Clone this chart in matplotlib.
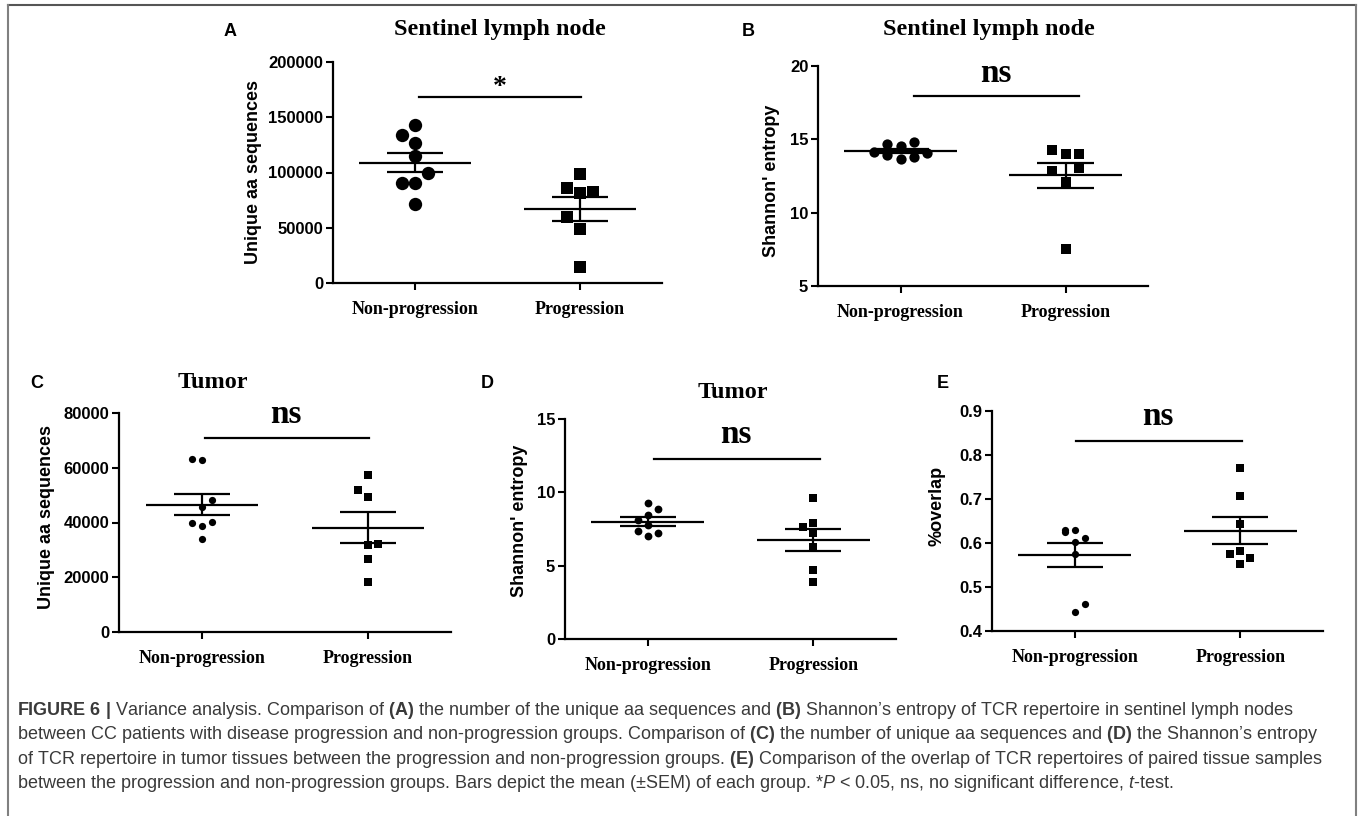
import numpy as np
import matplotlib.pyplot as plt
from matplotlib.lines import Line2D

# ---------------------------------------------------------------------------
# Data
# ---------------------------------------------------------------------------
groups = ['Non-progression', 'Progression']

# A: unique aa sequences, sentinel lymph node
a_nonprog = [143100, 134000, 127000, 114700, 99800, 90800, 90800, 71400]
a_prog = [99000, 85600, 81100, 82600, 59300, 49000, 14500]
# B: Shannon entropy, sentinel lymph node
b_nonprog = [14.16, 14.68, 13.93, 14.55, 13.64, 14.84, 13.82, 14.09]
b_prog = [14.30, 13.98, 13.98, 12.86, 13.02, 12.07, 7.55]
# C: unique aa sequences, tumor
c_nonprog = [63100, 62800, 48300, 45600, 39700, 38800, 40100, 33900]
c_prog = [57300, 51800, 49200, 31600, 32300, 26600, 18200]
# D: Shannon entropy, tumor
d_nonprog = [9.28, 8.87, 8.46, 8.12, 7.74, 7.37, 7.26, 6.99]
d_prog = [9.64, 7.94, 7.65, 7.22, 6.26, 4.72, 3.86]
# E: %overlap
e_nonprog = [0.630, 0.625, 0.629, 0.612, 0.603, 0.576, 0.4615, 0.444]
e_prog = [0.7695, 0.7065, 0.6436, 0.5745, 0.5813, 0.5669, 0.5525]

sig_labels = ['*', 'ns', 'ns', 'ns', 'ns']

# scatter columns (which side of the centre each point sits)
a_cols = ([0, -1, 0, 0, 1, -1, 0, 0], [0, -1, 0, 1, -1, 0, 0])
b_cols = ([-2, -1, -1, 0, 0, 1, 1, 2], [-1, 0, 1, -1, 1, 0, 0])
c_cols = ([-1, 0, 1, 0, -1, 0, 1, 0], [0, -1, 0, 0, 1, 0, 0])
d_cols = ([0, 1, 0, -1, 0, -1, 1, 0], [0, 0, -1, 0, 0, 0, 0])
e_cols = ([-1, -1, 0, 1, 0, 0, 1, 0], [0, 0, 0, -1, 0, 1, 0])

caption = [
    r"$\bf{FIGURE\ 6\ |}$ Variance analysis. Comparison of $\bf{(A)}$ the number of the unique aa sequences and $\bf{(B)}$ Shannon’s entropy of TCR repertoire in sentinel lymph nodes",
    r"between CC patients with disease progression and non-progression groups. Comparison of $\bf{(C)}$ the number of unique aa sequences and $\bf{(D)}$ the Shannon’s entropy",
    r"of TCR repertoire in tumor tissues between the progression and non-progression groups. $\bf{(E)}$ Comparison of the overlap of TCR repertoires of paired tissue samples",
    r"between the progression and non-progression groups. Bars depict the mean (±SEM) of each group. *$\it{P}$ < 0.05, ns, no significant difference, $\it{t}$-test.",
]

# ---------------------------------------------------------------------------
# Layout
# ---------------------------------------------------------------------------
W, H = 1360, 816
SANS = 'Liberation Sans'
SERIF = 'Liberation Serif'

plt.rcParams['mathtext.fontset'] = 'custom'
plt.rcParams['mathtext.rm'] = SANS
plt.rcParams['mathtext.bf'] = SANS + ':bold'
plt.rcParams['mathtext.it'] = SANS + ':italic'


def px_rect(l, t, r, b):
    return [l / W, 1 - b / H, (r - l) / W, (b - t) / H]


panels = [
    dict(letter='A', data=(a_nonprog, a_prog), cols=a_cols, rect=(333, 62, 662, 283),
         ylim=(0, 200000), yticks=[0, 50000, 100000, 150000, 200000],
         ylabel='Unique aa sequences', ylab_xy=(253, 172), ms=(9.6, 8.2), step=0.08,
         bar=(0.02, 1.01, 168300), sig_xy=(0.515, 171000), sig_size=20,
         title='Sentinel lymph node', title_xy=(500, 30), letter_xy=(230, 32)),
    dict(letter='B', data=(b_nonprog, b_prog), cols=b_cols, rect=(818, 66, 1148, 286),
         ylim=(5, 20), yticks=[5, 10, 15, 20],
         ylabel="Shannon' entropy", ylab_xy=(772, 181), ms=(7.4, 6.8), step=0.08,
         bar=(0.08, 1.08, 17.95), sig_xy=(0.576, 18.9), sig_size=24,
         title='Sentinel lymph node', title_xy=(989, 30), letter_xy=(748, 32)),
    dict(letter='C', data=(c_nonprog, c_prog), cols=c_cols, rect=(119, 413, 451, 632),
         ylim=(0, 80000), yticks=[0, 20000, 40000, 60000, 80000],
         ylabel='Unique aa sequences', ylab_xy=(47, 517), ms=(5.2, 5.2), step=0.06,
         bar=(0.02, 1.006, 70900), sig_xy=(0.506, 76300), sig_size=24,
         title='Tumor', title_xy=(213, 383), letter_xy=(37, 383)),
    dict(letter='D', data=(d_nonprog, d_prog), cols=d_cols, rect=(565, 419, 896, 639),
         ylim=(0, 15), yticks=[0, 5, 10, 15],
         ylabel="Shannon' entropy", ylab_xy=(520, 521), ms=(5.6, 5.2), step=0.06,
         bar=(0.04, 1.04, 12.27), sig_xy=(0.53, 13.36), sig_size=24,
         title='Tumor', title_xy=(733, 392), letter_xy=(487, 383)),
    dict(letter='E', data=(e_nonprog, e_prog), cols=e_cols, rect=(992, 411, 1323, 631),
         ylim=(0.4, 0.9), yticks=[0.4, 0.5, 0.6, 0.7, 0.8, 0.9],
         ylabel='%overlap', ylab_xy=(937, 506), ms=(5.2, 5.2), step=0.06,
         bar=(0.01, 1.01, 0.832), sig_xy=(0.503, 0.868), sig_size=24,
         title=None, title_xy=None, letter_xy=(943, 383)),
]

fig = plt.figure(figsize=(W / 100, H / 100), dpi=100)

for p, sig in zip(panels, sig_labels):
    ax = fig.add_axes(px_rect(*p['rect']))
    for i, (vals, cols) in enumerate(zip(p['data'], p['cols'])):
        vals = np.asarray(vals, dtype=float)
        x = i + np.asarray(cols) * p['step']
        ax.plot(x, vals, ls='', marker='o' if i == 0 else 's', ms=p['ms'][i],
                color='black', mew=0, clip_on=False, zorder=3)
        # mean +/- SEM
        m = vals.mean()
        sem = vals.std(ddof=1) / np.sqrt(len(vals))
        ax.hlines(m, i - 0.34, i + 0.34, color='black', lw=1.6, zorder=4)
        ax.vlines(i, m - sem, m + sem, color='black', lw=1.6, zorder=4)
        ax.hlines([m - sem, m + sem], i - 0.17, i + 0.17, color='black', lw=1.6, zorder=4)

    ax.set_xlim(-0.5, 1.5)
    ax.set_ylim(*p['ylim'])
    ax.set_yticks(p['yticks'])
    ax.set_xticks([0, 1])
    ax.set_xticklabels(groups, fontfamily=SERIF, fontweight='bold', fontsize=13)
    for lab in ax.get_yticklabels():
        lab.set_fontfamily(SANS)
        lab.set_fontweight('bold')
        lab.set_fontsize(12)
    ax.spines['top'].set_visible(False)
    ax.spines['right'].set_visible(False)
    ax.spines['left'].set_linewidth(1.6)
    ax.spines['bottom'].set_linewidth(1.6)
    ax.tick_params(axis='y', direction='out', length=5, width=1.5, pad=2)
    ax.tick_params(axis='x', direction='out', length=5, width=1.5, pad=8)
    ax.patch.set_alpha(0)

    # significance bracket
    x0, x1, yb = p['bar']
    ax.plot([x0, x1], [yb, yb], color='black', lw=1.6, clip_on=False)
    ax.text(p['sig_xy'][0], p['sig_xy'][1], sig, ha='center', va='baseline',
            fontfamily=SERIF, fontweight='bold', fontsize=p['sig_size'])

    # labels placed in figure pixels
    lx, ly = p['ylab_xy']
    fig.text(lx / W, 1 - ly / H, p['ylabel'], rotation=90, ha='center', va='center',
             fontfamily=SANS, fontweight='bold', fontsize=13)
    if p['title']:
        tx, ty = p['title_xy']
        fig.text(tx / W, 1 - ty / H, p['title'], ha='center', va='center',
                 fontfamily=SERIF, fontweight='bold', fontsize=17.5)
    cx, cy = p['letter_xy']
    fig.text(cx / W, 1 - cy / H, p['letter'], ha='center', va='center',
             fontfamily=SANS, fontweight='bold', fontsize=13)

# caption
for k, line in enumerate(caption):
    fig.text(17 / W, 1 - (715 + 24.4 * k) / H, line, ha='left', va='baseline',
             fontfamily=SANS, fontsize=13, color='#3a3a3a')

# page frame
fig.add_artist(Line2D([8 / W, 1356 / W], [1 - 5 / H, 1 - 5 / H], color='#555555', lw=1.5))
fig.add_artist(Line2D([8 / W, 8 / W], [0, 1 - 5 / H], color='#808080', lw=1.5))
fig.add_artist(Line2D([1356 / W, 1356 / W], [0, 1 - 5 / H], color='#808080', lw=1.5))

plt.savefig('out.png', dpi=100)
